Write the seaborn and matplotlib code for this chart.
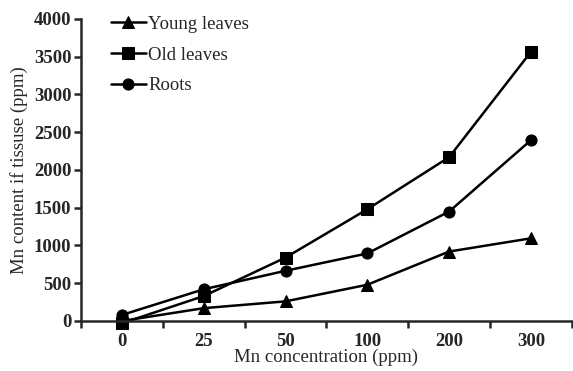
import matplotlib
matplotlib.use("Agg")
import matplotlib.pyplot as plt
import seaborn as sns
import pandas as pd
import numpy as np

concentrations = ["0", "25", "50", "100", "200", "300"]
young_leaves = [0, 170, 260, 480, 920, 1095]
old_leaves = [-30, 330, 840, 1480, 2170, 3565]
roots = [80, 420, 665, 895, 1450, 2395]
series_names = ["Young leaves", "Old leaves", "Roots"]

rows = []
for name, vals in zip(series_names, [young_leaves, old_leaves, roots]):
    for i, v in enumerate(vals):
        rows.append({"pos": i, "value": v, "tissue": name})
df = pd.DataFrame(rows)

sns.set_style("ticks")
plt.rcParams["font.family"] = ["Liberation Serif", "DejaVu Serif"]

fig = plt.figure(figsize=(5.73, 3.71), dpi=100)
ax = fig.add_axes([0.1414, 0.1348, 0.8566, 0.814])

sns.lineplot(data=df, x="pos", y="value", hue="tissue", style="tissue",
             markers={"Young leaves": "^", "Old leaves": "s", "Roots": "o"},
             dashes=False, palette=["black"] * 3, linewidth=1.8,
             markersize=8, markeredgecolor="black", ax=ax, clip_on=False,
             legend=True)

ax.set_xlim(-0.5, 5.5)
ax.set_ylim(0, 4000)
ax.set_yticks(np.arange(0, 4001, 500))
ax.set_xticks(range(len(concentrations)))
ax.set_xticklabels(concentrations)
ax.set_xticks(np.arange(-0.5, 5.6, 1.0), minor=True)
ax.tick_params(axis="x", which="major", length=0, pad=9, labelsize=13.5)
ax.tick_params(axis="x", which="minor", length=5, width=1.8, direction="out")
ax.tick_params(axis="y", length=5, width=1.8, direction="out", pad=2, labelsize=13.5)
for lab in ax.get_xticklabels() + ax.get_yticklabels():
    lab.set_fontweight("bold")

for s in ["top", "right"]:
    ax.spines[s].set_visible(False)
for s in ["left", "bottom"]:
    ax.spines[s].set_linewidth(1.8)

ax.set_xlabel("Mn concentration (ppm)", fontsize=13.5, labelpad=-1)
ax.set_ylabel("Mn content if tissuse (ppm)", fontsize=13.5, labelpad=4)

leg = ax.legend(loc="upper left", bbox_to_anchor=(0.045, 1.035), frameon=False,
                fontsize=13.5, handlelength=1.9, handletextpad=0.1,
                labelspacing=0.72, borderaxespad=0)

fig.savefig("out.png", dpi=100)
